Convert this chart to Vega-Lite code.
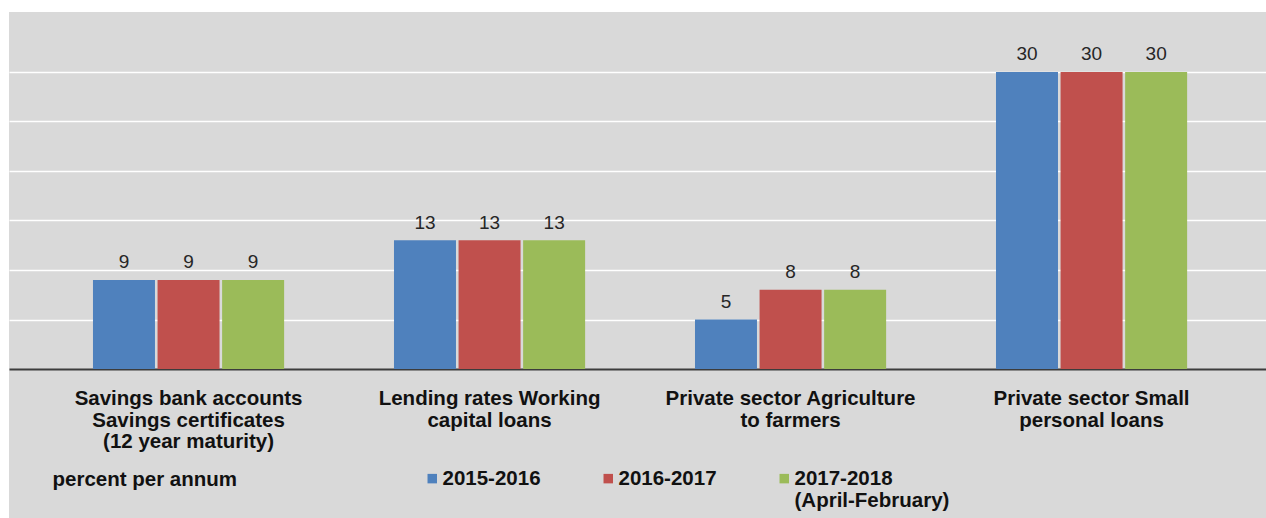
{
  "$schema": "https://vega.github.io/schema/vega-lite/v6.json",
  "width": 1257,
  "height": 506,
  "autosize": {"type": "none"},
  "padding": {"left": 9, "top": 12, "right": 0, "bottom": 0},
  "background": "#ffffff",
  "config": {"view": {"fill": "#d9d9d9", "stroke": null}, "font": "Liberation Sans"},
  "data": {
    "values": [
      {"category": "Savings bank accounts|Savings certificates|(12 year maturity)", "series": "2015-2016", "value": 9},
      {"category": "Savings bank accounts|Savings certificates|(12 year maturity)", "series": "2016-2017", "value": 9},
      {"category": "Savings bank accounts|Savings certificates|(12 year maturity)", "series": "2017-2018", "value": 9},
      {"category": "Lending rates Working|capital loans", "series": "2015-2016", "value": 13},
      {"category": "Lending rates Working|capital loans", "series": "2016-2017", "value": 13},
      {"category": "Lending rates Working|capital loans", "series": "2017-2018", "value": 13},
      {"category": "Private sector Agriculture|to farmers", "series": "2015-2016", "value": 5},
      {"category": "Private sector Agriculture|to farmers", "series": "2016-2017", "value": 8},
      {"category": "Private sector Agriculture|to farmers", "series": "2017-2018", "value": 8},
      {"category": "Private sector Small|personal loans", "series": "2015-2016", "value": 30},
      {"category": "Private sector Small|personal loans", "series": "2016-2017", "value": 30},
      {"category": "Private sector Small|personal loans", "series": "2017-2018", "value": 30}
    ]
  },
  "encoding": {
    "x": {
      "field": "category",
      "type": "nominal",
      "sort": null,
      "scale": {"paddingInner": 0.365, "paddingOuter": 0.2705, "align": 0.5157},
      "axis": {
        "orient": "bottom",
        "offset": -149,
        "title": "percent per annum",
        "titleX": 43,
        "titleY": 116,
        "titleAlign": "left",
        "titleBaseline": "alphabetic",
        "titleFontSize": 20.5,
        "titleFontWeight": "bold",
        "titleColor": "#111111",
        "labelAngle": 0,
        "labelExpr": "split(datum.value, '|')",
        "labelFontSize": 20.5,
        "labelFontWeight": "bold",
        "labelColor": "#111111",
        "labelPadding": 19.5,
        "labelLineHeight": 21.5,
        "labelLimit": 400,
        "ticks": false,
        "tickSize": 0,
        "domainColor": "#3c3c3c",
        "domainWidth": 2
      }
    },
    "xOffset": {"field": "series", "type": "nominal", "scale": {"paddingInner": 0.04}},
    "y": {
      "field": "value",
      "type": "quantitative",
      "scale": {"domain": [-15.05, 36.06], "nice": false, "zero": false},
      "axis": {
        "values": [5, 10, 15, 20, 25, 30],
        "grid": true,
        "gridColor": "#ffffff",
        "gridWidth": 1.5,
        "labels": false,
        "ticks": false,
        "domain": false,
        "title": null
      }
    }
  },
  "layer": [
    {
      "mark": {"type": "bar"},
      "encoding": {
        "y2": {"datum": 0},
        "color": {
          "field": "series",
          "type": "nominal",
          "scale": {"range": ["#4f81bd", "#c0504d", "#9bbb59"]},
          "legend": {
            "orient": "none",
            "legendX": 413,
            "legendY": 456,
            "direction": "horizontal",
            "title": null,
            "labelExpr": "datum.label == '2017-2018' ? ['2017-2018', '(April-February)'] : [datum.label, '']",
            "labelFontSize": 20.5,
            "labelFontWeight": "bold",
            "labelColor": "#111111",
            "labelBaseline": "middle",
            "labelLimit": 300,
            "labelOffset": 0,
            "symbolType": "square",
            "symbolSize": 90,
            "symbolStrokeWidth": 0,
            "columnPadding": 57,
            "padding": 0
          }
        }
      }
    },
    {
      "mark": {"type": "text", "baseline": "alphabetic", "dy": -11.5, "fontSize": 19, "color": "#262626"},
      "encoding": {"text": {"field": "value", "type": "quantitative", "format": "d"}}
    }
  ]
}
